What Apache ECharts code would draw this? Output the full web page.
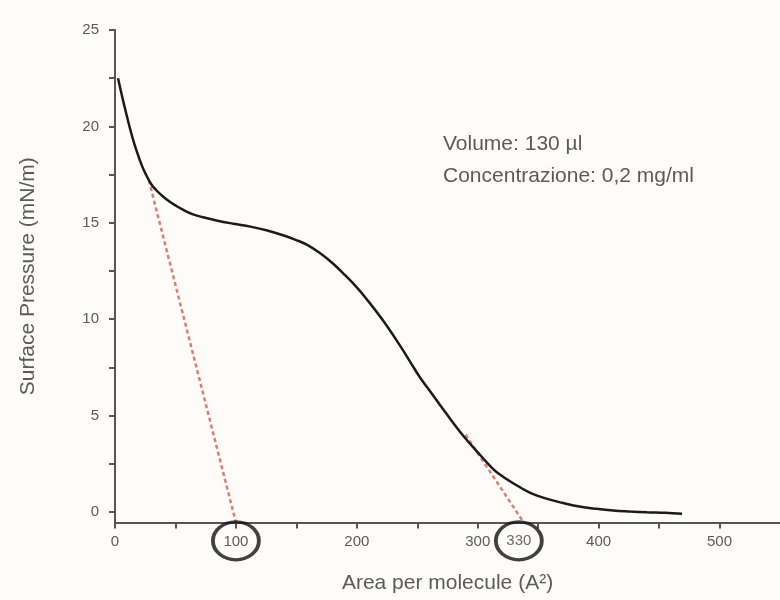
<!DOCTYPE html>
<html>
<head>
<meta charset="utf-8">
<script src="https://cdn.jsdelivr.net/npm/echarts@6/dist/echarts.min.js"></script>
<style>
  html, body { margin: 0; padding: 0; background: #fdfcf8; }
  #main { width: 780px; height: 600px; }
</style>
</head>
<body>
<div id="main"></div>
<script>
// isoterma: area per molecola / pressione superficiale
const areaX = [2.5, 8, 15, 22, 26, 30, 34, 39, 45, 50, 57, 64, 72, 84, 98, 112, 126, 139, 150, 159, 170, 180, 190, 200,
  208, 222, 236, 244, 252, 263, 274, 288, 302, 310, 316, 329, 343, 356, 370, 384, 398, 412, 426, 440, 455, 469];
const pressure = [22.5, 21.0, 19.3, 18.0, 17.45, 17.0, 16.7, 16.4, 16.1, 15.9, 15.65, 15.45, 15.3, 15.12, 14.95, 14.8, 14.6, 14.35, 14.1, 13.85, 13.4, 12.9, 12.3, 11.65,
  11.05, 9.9, 8.6, 7.8, 7.0, 6.05, 5.1, 3.95, 2.95, 2.4, 2.05, 1.5, 1.0, 0.7, 0.47, 0.28, 0.16, 0.07, 0.02, -0.02, -0.05, -0.1];

// rette tangenti (tratteggiate)
const tangent1 = [[28, 17.2], [100, -0.55]];
const tangent2 = [[290, 4.0], [338, -0.55]];

// valori cerchiati sull'asse x
const circled = [[100, -1.5], [334, -1.5]];
const circledText = ["", "330"];

const xTicks = [0, 50, 100, 150, 200, 250, 300, 350, 400, 450, 500];
const xLabels = [0, 100, 200, 300, 400, 500];
const yTicks = [0, 2.5, 5, 7.5, 10, 12.5, 15, 17.5, 20, 22.5, 25];
const yLabels = [0, 5, 10, 15, 20, 25];

const infoLines = ["Volume: 130 \u00b5l", "Concentrazione: 0,2 mg/ml"];

let chart = echarts.init(document.getElementById("main"));
const font = "'Liberation Sans', Arial, sans-serif";
const grey = "#5a5a5a";
const axisColor = "#555";
const dashRed = "#e07a72";

chart.setOption({
  backgroundColor: "#fdfcf8",
  animation: false,
  grid: { left: 115, right: 0, top: 30, bottom: 77.5 },
  xAxis: {
    type: "value",
    min: 0,
    max: 550,
    name: "Area per molecule (A\u00b2)",
    nameLocation: "middle",
    nameGap: 50,
    nameTextStyle: { color: grey, fontSize: 21, fontFamily: font },
    axisLine: { onZero: false, lineStyle: { color: axisColor, width: 2 } },
    axisTick: { customValues: xTicks, length: 6, lineStyle: { color: axisColor, width: 2 } },
    axisLabel: { customValues: xLabels, color: grey, fontSize: 15, fontFamily: font, margin: 12 },
    splitLine: { show: false },
  },
  yAxis: {
    type: "value",
    min: -0.55,
    max: 25,
    name: "Surface Pressure (mN/m)",
    nameLocation: "middle",
    nameGap: 76,
    nameTextStyle: { color: grey, fontSize: 21, fontFamily: font },
    axisLine: { show: true, onZero: false, lineStyle: { color: axisColor, width: 2 } },
    axisTick: { show: true, customValues: yTicks, length: 6, lineStyle: { color: axisColor, width: 2 } },
    axisLabel: { customValues: yLabels, color: grey, fontSize: 15, fontFamily: font, margin: 16 },
    splitLine: { show: false },
  },
  graphic: infoLines.map((t, i) => ({
    type: "text",
    left: 443,
    top: 134 + i * 32,
    style: { text: t, fill: grey, fontSize: 21, fontFamily: font },
  })),
  series: [
    {
      name: "tangente 1",
      type: "line",
      data: tangent1,
      symbol: "none",
      lineStyle: { color: dashRed, width: 2.5, type: [4, 3] },
      z: 1,
    },
    {
      name: "tangente 2",
      type: "line",
      data: tangent2,
      symbol: "none",
      lineStyle: { color: dashRed, width: 2.5, type: [4, 3] },
      z: 1,
    },
    {
      name: "isoterma",
      type: "line",
      data: areaX.map((x, i) => [x, pressure[i]]),
      symbol: "none",
      smooth: 0.4,
      lineStyle: { color: "#1c1a1a", width: 2.5 },
      z: 3,
    },
    {
      // cerchi intorno a 100 e 330
      name: "cerchi",
      type: "scatter",
      data: circled.map((p, i) => ({ value: p, label: { formatter: circledText[i] } })),
      symbol: "circle",
      symbolSize: [46, 38],
      clip: false,
      itemStyle: { color: "rgba(0,0,0,0)", borderColor: "#111", borderWidth: 3.5 },
      label: { show: true, position: "inside", color: "#444", fontSize: 15, fontFamily: font },
      z: 5,
    },
  ],
});
</script>
</body>
</html>
